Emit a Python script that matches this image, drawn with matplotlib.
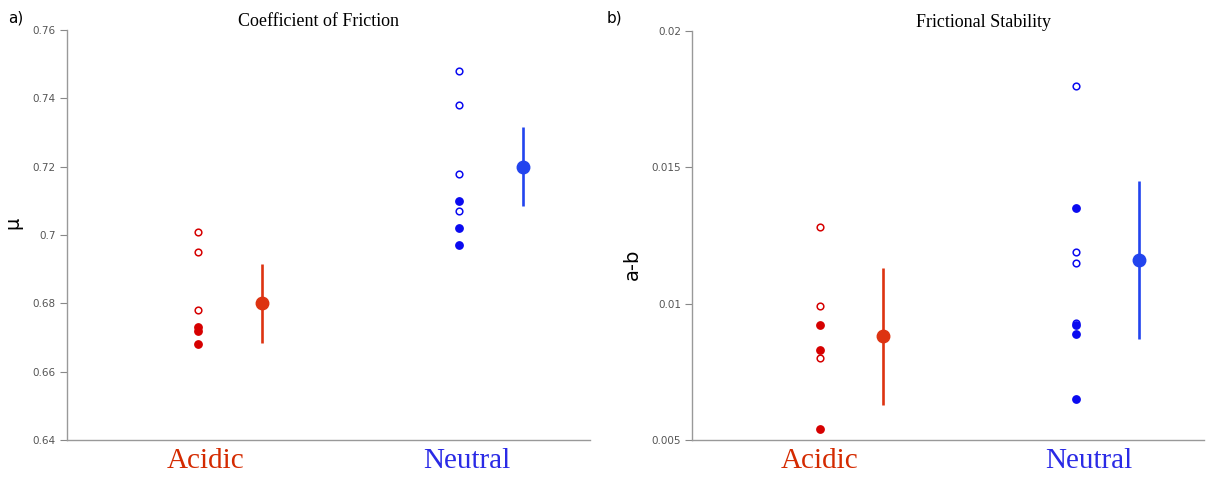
import matplotlib
matplotlib.use("Agg")
import matplotlib.pyplot as plt

categories = ["Acidic", "Neutral"]

# Panel a: coefficient of friction
mu_acidic_open = [0.701, 0.695, 0.678]
mu_acidic_filled = [0.673, 0.672, 0.668]
mu_neutral_open = [0.748, 0.738, 0.718, 0.707]
mu_neutral_filled = [0.710, 0.702, 0.697]
mu_means = [0.680, 0.720]
mu_err = [0.0115, 0.0115]

# Panel b: frictional stability a-b
ab_acidic_open = [0.0128, 0.0099, 0.0080]
ab_acidic_filled = [0.0092, 0.0083, 0.0054]
ab_neutral_open = [0.0180, 0.0119, 0.0115, 0.0093]
ab_neutral_filled = [0.0135, 0.0092, 0.0089, 0.0065]
ab_means = [0.0088, 0.0116]
ab_err = [0.0025, 0.0029]

mu_ticks = [0.64, 0.66, 0.68, 0.70, 0.72, 0.74, 0.76]
mu_ticklabels = ["0.64", "0.66", "0.68", "0.7", "0.72", "0.74", "0.76"]
ab_ticks = [0.005, 0.010, 0.015, 0.020]
ab_ticklabels = ["0.005", "0.01", "0.015", "0.02"]

pt_colors = ["#d60000", "#0a0af0"]
mean_colors = ["#dd3311", "#2244ee"]
label_colors = ["#d42a00", "#2a2ae6"]

fig = plt.figure(figsize=(12.06, 4.82), dpi=100)
W, H = 1206, 482
axa = fig.add_axes([67 / W, 1 - 440 / H, 523 / W, 410 / H])
axb = fig.add_axes([692 / W, 1 - 440 / H, 512 / W, 409 / H])

def draw(ax, opens, filleds, means, errs, ylim, ticks, ticklabels, title, title_x, ylabel, xt):
    for i in range(2):
        x = i + 1
        ax.plot([x] * len(opens[i]), opens[i], linestyle="none", marker="o", ms=4.8,
                mfc="white", mec=pt_colors[i], mew=1.1, zorder=3)
        ax.plot([x] * len(filleds[i]), filleds[i], linestyle="none", marker="o", ms=5.3,
                mfc=pt_colors[i], mec=pt_colors[i], zorder=3)
        ax.errorbar([x + 0.245], [means[i]], yerr=[errs[i]], fmt="o", ms=9,
                    color=mean_colors[i], elinewidth=1.9, capsize=0, zorder=4)
    ax.set_xlim(0.5, 2.5)
    ax.set_ylim(*ylim)
    ax.set_yticks(ticks)
    ax.set_yticklabels(ticklabels)
    ax.set_xticks(xt)
    ax.set_xticklabels(categories, family="Liberation Serif", fontsize=21)
    for lab, c in zip(ax.get_xticklabels(), label_colors):
        lab.set_color(c)
    ax.tick_params(axis="x", length=0, pad=6)
    ax.tick_params(axis="y", length=5, width=0.8, colors="#888888", labelcolor="#555555",
                   labelsize=7.5, pad=3, direction="out")
    for s in ["top", "right"]:
        ax.spines[s].set_visible(False)
    for s in ["left", "bottom"]:
        ax.spines[s].set_color("#999999")
        ax.spines[s].set_linewidth(1.0)
    ax.set_title(title, family="Liberation Serif", fontsize=13, x=title_x, pad=3)
    ax.set_ylabel(ylabel, fontsize=14)

draw(axa, [mu_acidic_open, mu_neutral_open], [mu_acidic_filled, mu_neutral_filled],
     mu_means, mu_err, (0.64, 0.76), mu_ticks, mu_ticklabels, "Coefficient of Friction", 0.48, "μ",
     [1.03, 2.03])
draw(axb, [ab_acidic_open, ab_neutral_open], [ab_acidic_filled, ab_neutral_filled],
     ab_means, ab_err, (0.005, 0.020), ab_ticks, ab_ticklabels, "Frictional Stability", 0.57, "a-b",
     [1.0, 2.05])

axa.yaxis.set_label_coords(-0.085, 0.53)
axb.yaxis.set_label_coords(-0.097, 0.43)

fig.text(8 / W, 1 - 18 / H, "a)", fontsize=11, va="center", ha="left")
fig.text(607 / W, 1 - 18 / H, "b)", fontsize=11, va="center", ha="left")

fig.savefig("out.png", dpi=100)
